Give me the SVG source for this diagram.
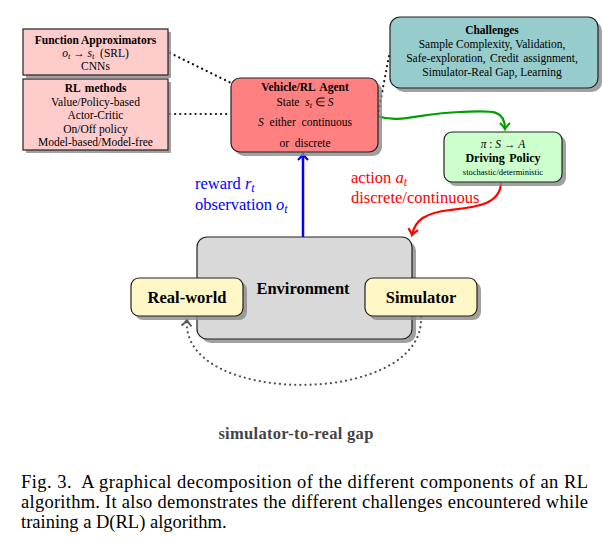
<svg xmlns="http://www.w3.org/2000/svg" width="602" height="549" viewBox="0 0 602 549">
<style>
text{font-family:"Liberation Serif","Times New Roman",serif;fill:#000}
.s{font-size:11.5px}
.b{font-weight:bold}
.i{font-style:italic}
.big{font-size:16.5px}
.box{stroke:#222;stroke-width:1.2}
.sh{fill:#8a8a8a;opacity:0.8}
.dot{fill:none;stroke:#111;stroke-width:2.2;stroke-dasharray:0.1 5;stroke-linecap:round}
.cap{font-size:18.5px}
</style>
<defs>
<marker id="mb" markerUnits="userSpaceOnUse" markerWidth="14" markerHeight="14" refX="0" refY="0" viewBox="-8 -7 10 14" orient="auto"><path d="M-6,-5 Q-2,-1 0,0 Q-2,1 -6,5" fill="none" stroke="#0000ff" stroke-width="2.2"/></marker>
<marker id="mg" markerUnits="userSpaceOnUse" markerWidth="14" markerHeight="14" refX="0" refY="0" viewBox="-8 -7 10 14" orient="auto"><path d="M-6,-5 Q-2,-1 0,0 Q-2,1 -6,5" fill="none" stroke="#00a000" stroke-width="2.2"/></marker>
<marker id="mr" markerUnits="userSpaceOnUse" markerWidth="14" markerHeight="14" refX="0" refY="0" viewBox="-8 -7 10 14" orient="auto"><path d="M-6,-5 Q-2,-1 0,0 Q-2,1 -6,5" fill="none" stroke="#ff0000" stroke-width="2.2"/></marker>
<marker id="mk" markerUnits="userSpaceOnUse" markerWidth="14" markerHeight="14" refX="0" refY="0" viewBox="-8 -7 10 14" orient="auto"><path d="M-6,-5 Q-2,-1 0,0 Q-2,1 -6,5" fill="none" stroke="#555" stroke-width="2"/></marker>
</defs>
<rect width="602" height="549" fill="#fff"/>

<g id="connectors">
<line class="dot" x1="170" y1="53" x2="231" y2="83"/>
<line class="dot" x1="170" y1="114" x2="231" y2="114"/>
<line class="dot" x1="389" y1="56" x2="378" y2="114"/>
<path d="M377,116 C400,124 420,113 460,112 C490,111 505,108 505,129" fill="none" stroke="#00a000" stroke-width="2.2" marker-end="url(#mg)"/>
<path d="M501,183 C500,205 475,207 450,210 C425,213 415,220 412,235" fill="none" stroke="#ff0000" stroke-width="2.2" marker-end="url(#mr)"/>
<line x1="303" y1="237" x2="303" y2="154" stroke="#0000ff" stroke-width="2.5" marker-end="url(#mb)"/>
<path d="M421,317 C425,407 180,407 187,320" fill="none" stroke="#555" stroke-width="2.2" stroke-dasharray="0.1 5" stroke-linecap="round" marker-end="url(#mk)"/>
</g>

<g id="labels">
<text class="big" x="195" y="189" style="fill:#0000ff">reward <tspan class="i">r</tspan><tspan dy="3" font-size="12px" class="i">t</tspan></text>
<text class="big" x="195" y="210" style="fill:#0000ff">observation <tspan class="i">o</tspan><tspan dy="3" font-size="12px" class="i">t</tspan></text>
<text class="big" x="351" y="183" style="fill:#ff0000">action <tspan class="i">a</tspan><tspan dy="3" font-size="12px" class="i">t</tspan></text>
<text class="big" x="351" y="203" style="fill:#ff0000">discrete/continuous</text>
</g>

<g id="function-approximators">
<rect class="sh" x="26" y="32" width="145" height="46"/>
<rect class="box" x="23" y="29" width="145" height="46" fill="#ffcccc"/>
<text class="s b" x="95.5" y="44" text-anchor="middle">Function Approximators</text>
<text class="s" x="95.5" y="57" text-anchor="middle"><tspan class="i">o</tspan><tspan class="i" font-size="8.5px" dy="2">t</tspan><tspan dy="-2"> → </tspan><tspan class="i">s</tspan><tspan class="i" font-size="8.5px" dy="2">t</tspan><tspan dy="-2">&#160; (SRL)</tspan></text>
<text class="s" x="95.5" y="70" text-anchor="middle">CNNs</text>
</g>

<g id="rl-methods">
<rect class="sh" x="26" y="82" width="145" height="71"/>
<rect class="box" x="23" y="79" width="145" height="71" fill="#ffcccc"/>
<text class="s b" x="95.5" y="92" text-anchor="middle" word-spacing="2">RL methods</text>
<text class="s" x="95.5" y="105.5" text-anchor="middle">Value/Policy-based</text>
<text class="s" x="95.5" y="119" text-anchor="middle">Actor-Critic</text>
<text class="s" x="95.5" y="132.5" text-anchor="middle">On/Off policy</text>
<text class="s" x="95.5" y="146" text-anchor="middle">Model-based/Model-free</text>
</g>

<g id="agent">
<rect class="sh" x="235" y="82" width="147" height="74" rx="9"/>
<rect class="box" x="231" y="78" width="147" height="74" rx="9" fill="#ff8080"/>
<text class="s b" x="305" y="91" text-anchor="middle" word-spacing="2">Vehicle/RL Agent</text>
<text class="s" x="305" y="106" text-anchor="middle">State&#160; <tspan class="i">s</tspan><tspan class="i" font-size="8.5px" dy="2">t</tspan><tspan dy="-2"> ∈ </tspan><tspan class="i">S</tspan></text>
<text class="s" x="305" y="126" text-anchor="middle" word-spacing="3"><tspan class="i">S</tspan> either continuous</text>
<text class="s" x="305" y="147" text-anchor="middle" word-spacing="3">or discrete</text>
</g>

<g id="challenges">
<rect class="sh" x="394" y="21" width="208" height="71" rx="10"/>
<rect class="box" x="390" y="17" width="208" height="71" rx="10" fill="#96cccc"/>
<text class="s b" x="492" y="34" text-anchor="middle">Challenges</text>
<text class="s" x="492" y="48" text-anchor="middle">Sample Complexity, Validation,</text>
<text class="s" x="492" y="62" text-anchor="middle" word-spacing="1.5">Safe-exploration, Credit assignment,</text>
<text class="s" x="492" y="76" text-anchor="middle">Simulator-Real Gap, Learning</text>
</g>

<g id="driving-policy">
<rect class="sh" x="448" y="136" width="118" height="50" rx="8"/>
<rect class="box" x="444" y="132" width="118" height="50" rx="8" fill="#ccffcc"/>
<text class="s" x="503" y="148" text-anchor="middle"><tspan class="i">π</tspan> : <tspan class="i">S</tspan> → <tspan class="i">A</tspan></text>
<text class="b" x="503" y="161.5" text-anchor="middle" font-size="12px" word-spacing="1.5">Driving Policy</text>
<text x="503" y="175" text-anchor="middle" font-size="8.5px">stochastic/deterministic</text>
</g>

<g id="environment">
<rect class="sh" x="201" y="241" width="215" height="102" rx="10"/>
<rect class="box" x="197" y="237" width="215" height="102" rx="10" fill="#d9d9d9"/>
<text class="big b" x="303" y="294" text-anchor="middle">Environment</text>
</g>

<g id="real-world">
<rect class="sh" x="135" y="282" width="112" height="38" rx="8"/>
<rect class="box" x="131" y="278" width="112" height="38" rx="8" fill="#fff8c6"/>
<text class="big b" x="187" y="303" text-anchor="middle">Real-world</text>
</g>

<g id="simulator">
<rect class="sh" x="369" y="282" width="112" height="38" rx="8"/>
<rect class="box" x="365" y="278" width="112" height="38" rx="8" fill="#fff8c6"/>
<text class="big b" x="421" y="303" text-anchor="middle">Simulator</text>
</g>

<text class="big b" x="296" y="439" text-anchor="middle" style="fill:#444" letter-spacing="0.3">simulator-to-real gap</text>

<g id="caption">
<text class="cap" x="21" y="488" textLength="567" lengthAdjust="spacing">Fig. 3.&#160; A graphical decomposition of the different components of an RL</text>
<text class="cap" x="21" y="508" textLength="567" lengthAdjust="spacing">algorithm. It also demonstrates the different challenges encountered while</text>
<text class="cap" x="21" y="527.5">training a D(RL) algorithm.</text>
</g>
</svg>
